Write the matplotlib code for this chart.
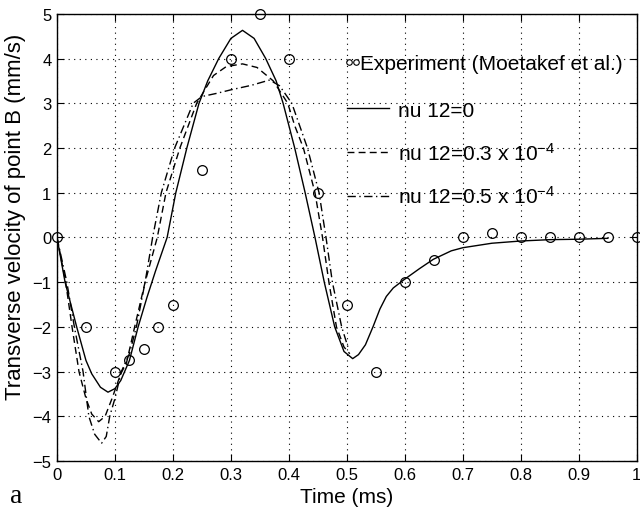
import matplotlib
matplotlib.use("Agg")
import matplotlib.pyplot as plt
from matplotlib.legend_handler import HandlerLine2D

plt.rcParams.update({"font.family": "Liberation Sans", "font.size": 11,
                     "mathtext.fontset": "custom", "mathtext.rm": "Liberation Sans",
                     "mathtext.default": "regular", "axes.unicode_minus": True})

# experiment (circles)
exp_t = [0.0, 0.05, 0.1, 0.125, 0.15, 0.175, 0.2, 0.25, 0.3, 0.35, 0.4, 0.45, 0.5,
         0.55, 0.6, 0.65, 0.7, 0.75, 0.8, 0.85, 0.9, 0.95, 1.0]
exp_v = [0.0, -2.0, -3.0, -2.75, -2.5, -2.0, -1.5, 1.5, 4.0, 5.0, 4.0, 1.0, -1.5,
         -3.0, -1.0, -0.5, 0.0, 0.1, 0.0, 0.0, 0.0, 0.0, 0.0]

# nu 12 = 0 (solid)
t0 = [0.0, 0.014, 0.034, 0.05, 0.06, 0.075, 0.088, 0.10, 0.11, 0.125, 0.14, 0.155,
      0.17, 0.19, 0.205, 0.224, 0.245, 0.26, 0.279, 0.30, 0.32, 0.34, 0.36, 0.378,
      0.39, 0.41, 0.428, 0.445, 0.461, 0.479, 0.495, 0.51, 0.52, 0.532, 0.545, 0.557,
      0.568, 0.58, 0.598, 0.625, 0.649, 0.68, 0.70, 0.75, 0.80, 0.85, 0.90, 0.95]
v0 = [0.0, -1.0, -2.0, -2.75, -3.05, -3.35, -3.46, -3.38, -3.2, -2.75, -2.0, -1.35,
      -0.75, 0.0, 1.0, 2.0, 3.0, 3.5, 4.0, 4.45, 4.63, 4.45, 4.0, 3.5,
      3.0, 2.0, 1.0, 0.0, -1.0, -2.0, -2.55, -2.71, -2.62, -2.4, -2.0, -1.6,
      -1.32, -1.13, -0.95, -0.7, -0.49, -0.3, -0.23, -0.13, -0.08, -0.05, -0.04, -0.02]

# nu 12 = 0.3e-4 (dashed)
t3 = [0.0, 0.015, 0.026, 0.038, 0.05, 0.06, 0.072, 0.083, 0.095, 0.11, 0.12, 0.134,
      0.152, 0.173, 0.188, 0.212, 0.241, 0.27, 0.292, 0.32, 0.345, 0.373, 0.398,
      0.41, 0.425, 0.445, 0.458, 0.469, 0.482, 0.495, 0.505]
v3 = [0.0, -1.0, -2.0, -3.0, -3.6, -3.95, -4.12, -4.0, -3.6, -3.05, -2.8, -2.0,
      -1.0, 0.0, 1.0, 2.0, 3.0, 3.62, 3.82, 3.88, 3.8, 3.5, 3.0,
      2.5, 2.0, 1.0, 0.0, -1.0, -2.0, -2.45, -2.6]

# nu 12 = 0.5e-4 (dash-dot)
t5 = [0.0, 0.017, 0.03, 0.045, 0.055, 0.065, 0.077, 0.085, 0.091, 0.10, 0.111, 0.125,
      0.137, 0.152, 0.165, 0.18, 0.203, 0.235, 0.25, 0.275, 0.30, 0.335, 0.367,
      0.384, 0.405, 0.432, 0.452, 0.464, 0.475, 0.491, 0.503]
v5 = [0.0, -1.0, -2.0, -3.0, -4.0, -4.4, -4.6, -4.45, -4.0, -3.6, -3.0, -2.6,
      -2.0, -1.0, 0.0, 1.0, 2.0, 3.0, 3.15, 3.22, 3.30, 3.4, 3.52,
      3.39, 3.0, 2.0, 1.0, 0.0, -1.0, -2.0, -2.5]

labels = ["nu 12=0", "nu 12=0.3 x 10$^{-4}$", "nu 12=0.5 x 10$^{-4}$"]
xticks = [0, 0.1, 0.2, 0.3, 0.4, 0.5, 0.6, 0.7, 0.8, 0.9, 1]
xticklabels = ["0", "0.1", "0.2", "0.3", "0.4", "0.5", "0.6", "0.7", "0.8", "0.9", "1"]
yticks = [-5, -4, -3, -2, -1, 0, 1, 2, 3, 4, 5]

fig = plt.figure(figsize=(6.4, 5.1), dpi=100)
ax = fig.add_axes([0.089, 0.094, 0.906, 0.877])

ax.plot(exp_t, exp_v, "o", mfc="none", mec="k", ms=7, mew=0.9, zorder=4, clip_on=False)
l0, = ax.plot(t0, v0, "-", color="k", lw=1.0)
l3, = ax.plot(t3, v3, color="k", lw=1.0, dashes=(5, 3))
l5, = ax.plot(t5, v5, color="k", lw=1.0, dashes=(6, 2.5, 1, 2.5))

ax.set_xlim(0, 1); ax.set_ylim(-5, 5)
ax.set_xticks(xticks); ax.set_xticklabels(xticklabels)
ax.set_yticks(yticks)
ax.tick_params(direction="in", top=True, right=True, length=5, width=0.8, labelsize=12, pad=4)
ax.grid(True, color="k", linestyle=(0, (1, 4)), lw=0.8)
for s in ax.spines.values():
    s.set_linewidth(1.0)
ax.set_xlabel("Time (ms)", fontsize=15, labelpad=4)
ax.set_ylabel("Transverse velocity of point B (mm/s)", fontsize=16)
ax.yaxis.set_label_coords(-0.054, 0.548)

leg1 = ax.legend([l0, l3, l5], labels, loc="upper left", bbox_to_anchor=(0.5, 0.806),
                 frameon=False, fontsize=15, handlelength=2.0, handletextpad=0.45,
                 labelspacing=1.05, borderpad=0, borderaxespad=0)
ax.add_artist(leg1)
hexp, = ax.plot([], [], "o", mfc="none", mec="k", ms=4, mew=0.8)
ax.legend([hexp], ["Experiment (Moetakef et al.)"], loc="upper left",
          bbox_to_anchor=(0.503, 0.91), frameon=False, fontsize=15,
          handler_map={hexp: HandlerLine2D(numpoints=2, marker_pad=0)},
          handlelength=0.36, handletextpad=0.18, borderpad=0, borderaxespad=0)

fig.text(0.016, 0.014, "a", family="Liberation Serif", fontsize=20)

fig.savefig("out.png", dpi=100)
